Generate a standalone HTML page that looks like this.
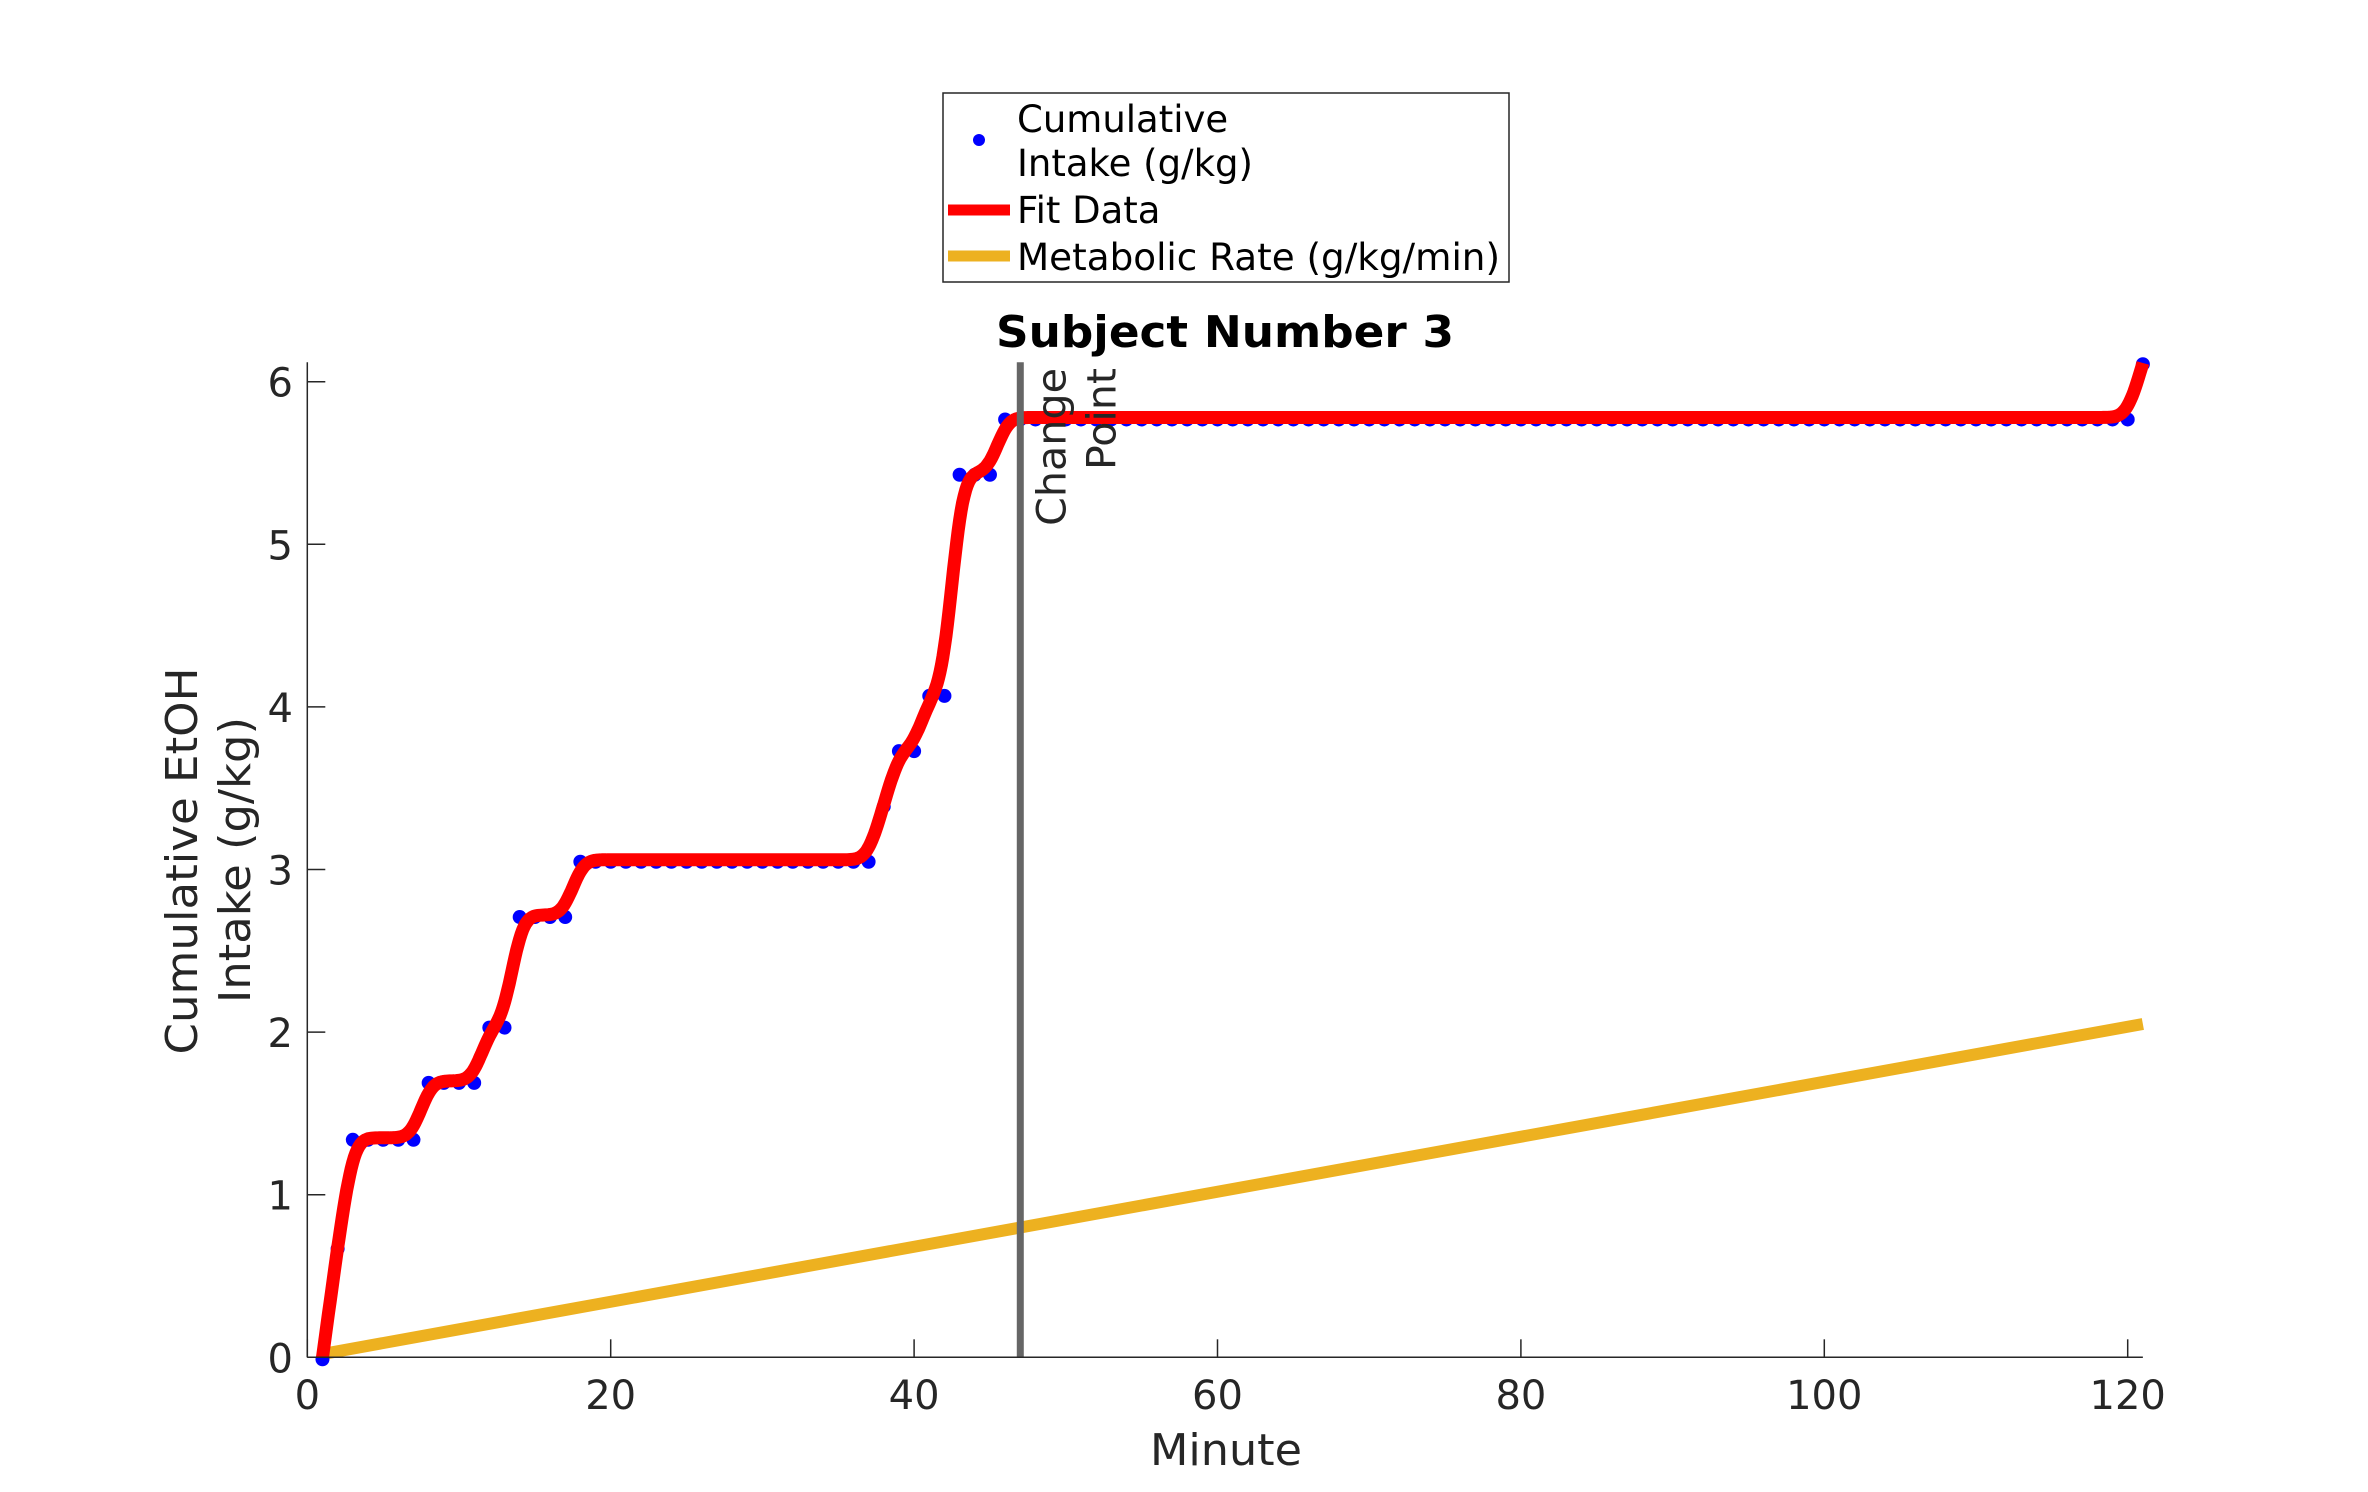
<!DOCTYPE html>
<html><head><meta charset="utf-8"><style>
html,body{margin:0;padding:0;background:#fff;}
svg{display:block;font-family:"DejaVu Sans","Liberation Sans",sans-serif;}
</style></head><body>
<svg id="chart" width="2368" height="1492" viewBox="0 0 2368 1492" xmlns="http://www.w3.org/2000/svg">
<rect width="2368" height="1492" fill="#fff"/>
<g id="plot"></g>
<g id="axes"></g>
<text x="1225" y="347" font-size="44" font-weight="bold" text-anchor="middle" fill="#000" textLength="458" lengthAdjust="spacingAndGlyphs">Subject Number 3</text>
<text x="1226" y="1465" font-size="44" text-anchor="middle" fill="#262626" textLength="152" lengthAdjust="spacingAndGlyphs">Minute</text>
<g transform="rotate(-90)">
<text x="-861" y="197" font-size="44" text-anchor="middle" fill="#262626" textLength="387" lengthAdjust="spacingAndGlyphs">Cumulative EtOH</text>
<text x="-860" y="250" font-size="44" text-anchor="middle" fill="#262626" textLength="286" lengthAdjust="spacingAndGlyphs">Intake (g/kg)</text>
</g>
<g>
<rect x="943" y="93" width="566" height="189" fill="#fff" stroke="#262626" stroke-width="1.5"/>
<circle cx="979" cy="140" r="6" fill="#0000ff"/>
<text x="1017" y="132" font-size="37" fill="#000">Cumulative</text>
<text x="1017" y="176" font-size="37" fill="#000">Intake (g/kg)</text>
<line x1="948" y1="210" x2="1010" y2="210" stroke="#ff0000" stroke-width="11"/>
<text x="1017" y="223" font-size="37" fill="#000">Fit Data</text>
<line x1="948" y1="256" x2="1010" y2="256" stroke="#edb120" stroke-width="11"/>
<text x="1017" y="270" font-size="37" fill="#000" textLength="483" lengthAdjust="spacingAndGlyphs">Metabolic Rate (g/kg/min)</text>
</g>
</svg>
<script>
const minutes = [];
for (let m = 1; m <= 121; m++) minutes.push(m);
const intake = [0,0.68,1.35,1.35,1.35,1.35,1.35,1.70,1.70,1.70,1.70,2.04,2.04,2.72,2.72,2.72,2.72,
3.06,3.06,3.06,3.06,3.06,3.06,3.06,3.06,3.06,3.06,3.06,3.06,3.06,3.06,3.06,3.06,3.06,3.06,3.06,3.06,
3.40,3.74,3.74,4.08,4.08,5.44,5.44,5.44,
5.78,5.78,5.78,5.78,5.78,5.78,5.78,5.78,5.78,5.78,5.78,5.78,5.78,5.78,5.78,5.78,5.78,5.78,5.78,5.78,
5.78,5.78,5.78,5.78,5.78,5.78,5.78,5.78,5.78,5.78,5.78,5.78,5.78,5.78,5.78,5.78,5.78,5.78,5.78,5.78,
5.78,5.78,5.78,5.78,5.78,5.78,5.78,5.78,5.78,5.78,5.78,5.78,5.78,5.78,5.78,5.78,5.78,5.78,5.78,5.78,
5.78,5.78,5.78,5.78,5.78,5.78,5.78,5.78,5.78,5.78,5.78,5.78,5.78,5.78,5.78,6.12];
const metabolicMinutes = [1, 121];
const metabolicValues = [0.02, 2.05];
const changePoint = [47];
const xTicks = [0,20,40,60,80,100,120];
const yTicks = [0,1,2,3,4,5,6];

const NS = "http://www.w3.org/2000/svg";
const X0 = 307.3, XS = 15.17, Y0 = 1357.3, YS = 162.6;
const xMin = 0, xMax = 121, yMin = 0, yMax = 6.12;
function sx(v){ return X0 + (v - xMin) * XS; }
function sy(v){ return Y0 - (v - yMin) * YS; }
function mk(tag, attrs, parent){
  const e = document.createElementNS(NS, tag);
  for (const k in attrs) e.setAttribute(k, attrs[k]);
  parent.appendChild(e); return e;
}
const plot = document.getElementById('plot');
const axes = document.getElementById('axes');

// local-linear kernel smoother for the fit
function smoothAt(t, xs, ys, sig){
  let sw=0, swx=0, swy=0, swxx=0, swxy=0;
  for (let i = 0; i < xs.length; i++){
    const dx = xs[i]-t;
    if (Math.abs(dx) > 4*sig) continue;
    const w = Math.exp(-dx*dx/(2*sig*sig));
    sw+=w; swx+=w*dx; swy+=w*ys[i]; swxx+=w*dx*dx; swxy+=w*dx*ys[i];
  }
  const den = sw*swxx - swx*swx;
  if (Math.abs(den) < 1e-9) return swy/sw;
  return (swy*swxx - swx*swxy)/den;
}

// metabolic line
const met = mk('line', {x1: sx(metabolicMinutes[0]), y1: sy(metabolicValues[0]), x2: sx(metabolicMinutes[1]), y2: sy(metabolicValues[1]), stroke:'#edb120', 'stroke-width':12}, plot);



// intake points
const pts = mk('g', {}, plot);


minutes.forEach((m, i) => {
  const c = mk('circle', {cx: sx(m), cy: sy(intake[i]) + 2, r: 7, fill:'#0000ff'}, pts);
  
  
});

// fit line
let dstr = '';
const tEnd = minutes[minutes.length-1];
for (let t = minutes[0]; t <= tEnd + 1e-9; t += 0.1){
  dstr += (dstr ? 'L' : 'M') + sx(t).toFixed(1) + ',' + sy(smoothAt(t, minutes, intake, 0.7)).toFixed(1);
}
const fit = mk('path', {d: dstr, fill:'none', stroke:'#ff0000', 'stroke-width':13, 'stroke-linejoin':'round'}, plot);



// change point
const cp = mk('line', {x1: sx(changePoint[0]), y1: sy(yMax), x2: sx(changePoint[0]), y2: Y0, stroke:'#666', 'stroke-width':7}, plot);


const cpg = mk('g', {transform: 'rotate(-90)', 'font-size': 40, fill: '#262626', 'text-anchor': 'end'}, plot);


const t1 = mk('text', {x: -368, y: sx(changePoint[0]) + 45, textLength: 158, lengthAdjust: 'spacingAndGlyphs'}, cpg);
t1.textContent = 'Change';
const t2 = mk('text', {x: -368, y: sx(changePoint[0]) + 95, textLength: 102, lengthAdjust: 'spacingAndGlyphs'}, cpg);
t2.textContent = 'Point';

// axes
const xa = mk('line', {x1: X0, y1: Y0, x2: sx(xMax), y2: Y0, stroke:'#262626', 'stroke-width':1.5}, axes);


const ya = mk('line', {x1: X0, y1: Y0, x2: X0, y2: sy(yMax), stroke:'#262626', 'stroke-width':1.5}, axes);


xTicks.forEach(v => {
  const tk = mk('line', {x1: sx(v), y1: Y0, x2: sx(v), y2: Y0 - 18, stroke:'#262626', 'stroke-width':1.5}, axes);
  
  
  const lb = mk('text', {x: sx(v), y: 1409, 'font-size': 40, 'text-anchor':'middle', fill:'#262626'}, axes);
  
  
  lb.textContent = v;
});
yTicks.forEach(v => {
  const tk = mk('line', {x1: X0, y1: sy(v), x2: X0 + 18, y2: sy(v), stroke:'#262626', 'stroke-width':1.5}, axes);
  
  
  const lb = mk('text', {x: 293, y: sy(v) + 15, 'font-size': 40, 'text-anchor':'end', fill:'#262626'}, axes);
  
  
  lb.textContent = v;
});
</script>
</body></html>
